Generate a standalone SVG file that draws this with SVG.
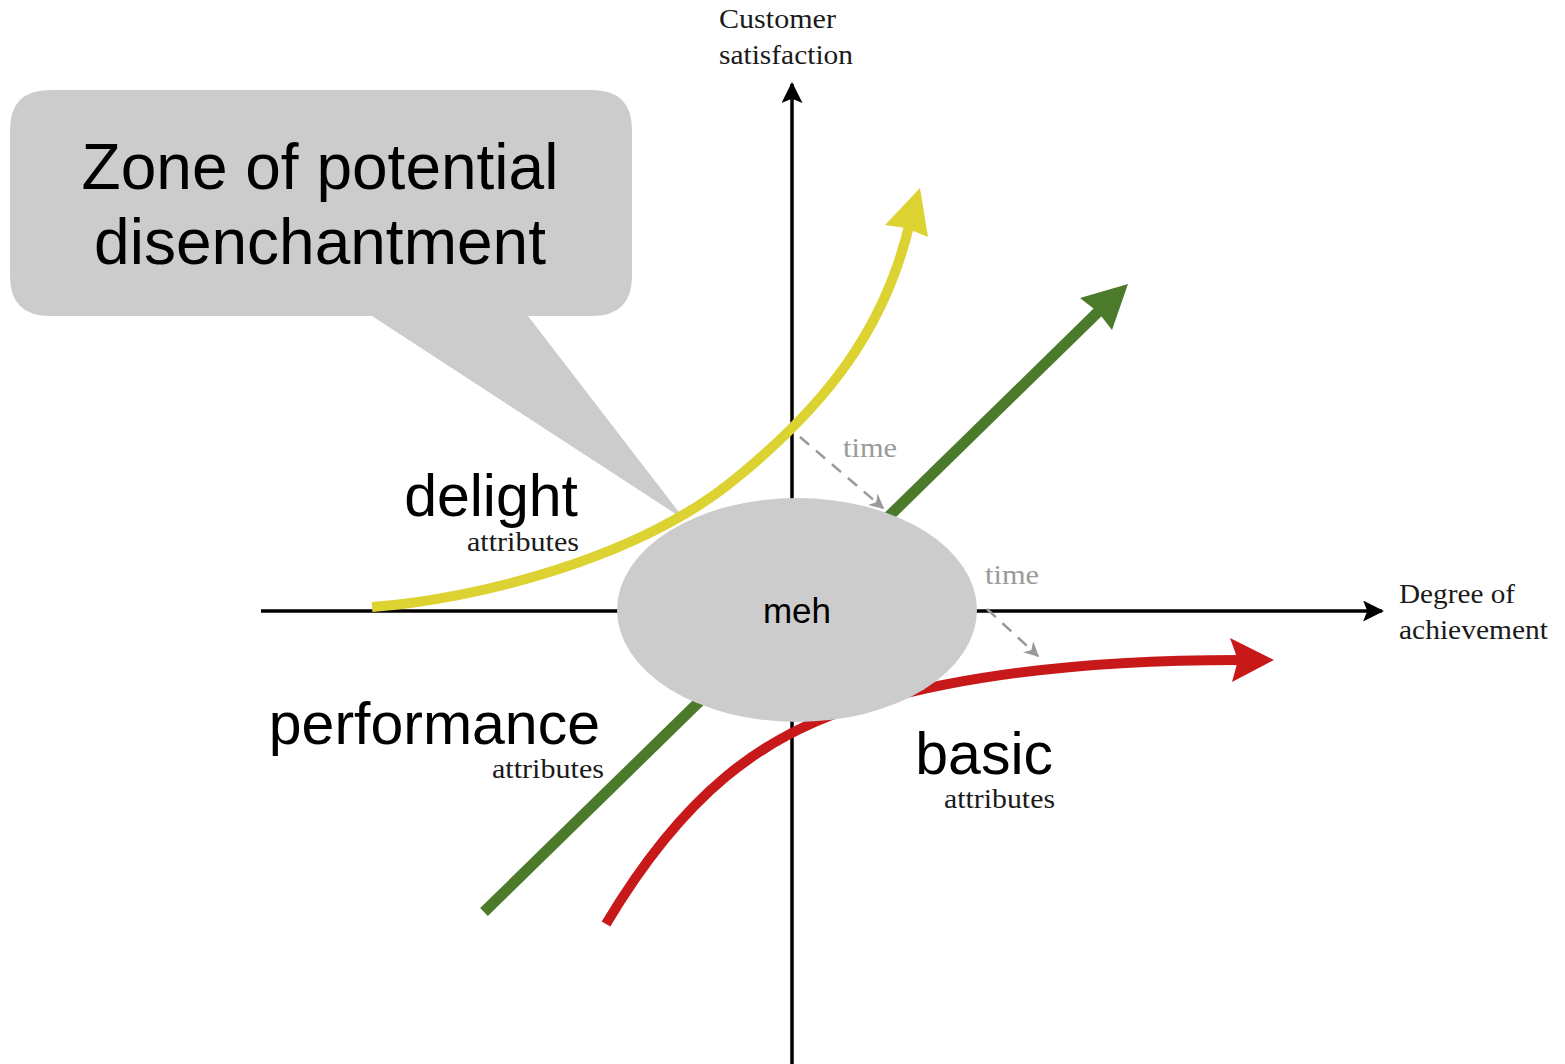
<svg xmlns="http://www.w3.org/2000/svg" width="1565" height="1064" viewBox="0 0 1565 1064">
  <style>
    .serif { font-family: "Liberation Serif", "DejaVu Serif", serif; fill: #1a1a1a; }
    .sans { font-family: "Liberation Sans", Arial, sans-serif; fill: #000; }
    .axis { stroke: #000; stroke-width: 3.5; fill: none; }
    .time { stroke: #999; stroke-width: 2.5; stroke-dasharray: 12 9; fill: none; }
    .timelbl { font-family: "Liberation Serif", "DejaVu Serif", serif; fill: #9a9a9a; font-size: 27px; }
    .ax { font-size: 28px; }
    .sub { font-size: 27px; }
    .big { font-size: 59px; }
    .zone { font-size: 64px; }
  </style>
  <defs>
    <marker id="axhead" viewBox="0 0 10 10" refX="9" refY="5" markerWidth="6" markerHeight="6" orient="auto" markerUnits="strokeWidth">
      <path d="M0,0 L10,5 L0,10 L2,5 Z" fill="#000"/>
    </marker>
    <marker id="timehead" viewBox="0 0 10 10" refX="9" refY="5" markerWidth="6" markerHeight="6" orient="auto" markerUnits="strokeWidth">
      <path d="M0,0 L10,5 L0,10 L3,5 Z" fill="#999"/>
    </marker>
  </defs>
  <rect width="1565" height="1064" fill="#fff"/>

  <!-- callout bubble -->
  <g id="callout">
    <path d="M50,90 H592 Q632,90 632,130 V276 Q632,316 592,316 H528 L685,520 L372,316 H50 Q10,316 10,276 V130 Q10,90 50,90 Z" fill="#cccccc"/>
    <text class="sans zone" x="320" y="189" text-anchor="middle">Zone of potential</text>
    <text class="sans zone" x="320" y="264" text-anchor="middle">disenchantment</text>
  </g>

  <!-- axes -->
  <g id="axes">
    <line class="axis" x1="792" y1="1064" x2="792" y2="84" marker-end="url(#axhead)"/>
    <line class="axis" x1="261" y1="611" x2="1382" y2="611" marker-end="url(#axhead)"/>
    <text class="serif ax" x="719" y="28" textLength="117" lengthAdjust="spacingAndGlyphs">Customer</text>
    <text class="serif ax" x="719" y="64" textLength="134" lengthAdjust="spacingAndGlyphs">satisfaction</text>
    <text class="serif ax" x="1399" y="603" textLength="116" lengthAdjust="spacingAndGlyphs">Degree of</text>
    <text class="serif ax" x="1399" y="639" textLength="149" lengthAdjust="spacingAndGlyphs">achievement</text>
  </g>

  <!-- attribute curves -->
  <g id="connectors">
    <g id="delight-curve">
      <path d="M372,607 C470,600 640,560 740,475 C825,405 885,330 910,222" fill="none" stroke="#dcd232" stroke-width="10"/>
      <polygon points="920,188 928,237 906,228 885,225" fill="#dcd232"/>
    </g>
    <g id="performance-line">
      <line x1="484" y1="912" x2="1100" y2="310" stroke="#4a7a2a" stroke-width="11"/>
      <polygon points="1128,284 1112,330 1098,312 1080,298" fill="#4a7a2a"/>
    </g>
    <g id="basic-curve">
      <path d="M606,924 C680,800 760,730 880,700 C980,672 1100,660 1240,660" fill="none" stroke="#c8191a" stroke-width="10"/>
      <polygon points="1274,660 1232,682 1238,660 1230,638" fill="#c8191a"/>
    </g>
    <g id="time-shifts">
      <line class="time" x1="800" y1="437" x2="883" y2="508" marker-end="url(#timehead)"/>
      <line class="time" x1="987" y1="609" x2="1038" y2="656" marker-end="url(#timehead)"/>
    </g>
  </g>

  <g id="time-labels">
    <text class="timelbl" x="843" y="457" textLength="54" lengthAdjust="spacingAndGlyphs">time</text>
    <text class="timelbl" x="985" y="584" textLength="54" lengthAdjust="spacingAndGlyphs">time</text>
  </g>

  <!-- neutral zone -->
  <g id="meh">
    <ellipse cx="797" cy="610" rx="180" ry="112" fill="#cccccc"/>
    <text class="sans" x="797" y="623" font-size="35" text-anchor="middle">meh</text>
  </g>

  <g id="delight-label">
    <text class="sans big" x="578" y="516" text-anchor="end">delight</text>
    <text class="serif sub" x="467" y="551" textLength="112" lengthAdjust="spacingAndGlyphs">attributes</text>
  </g>
  <g id="performance-label">
    <text class="sans big" x="600" y="744" text-anchor="end">performance</text>
    <text class="serif sub" x="492" y="778" textLength="112" lengthAdjust="spacingAndGlyphs">attributes</text>
  </g>
  <g id="basic-label">
    <text class="sans big" x="1053" y="774" text-anchor="end">basic</text>
    <text class="serif sub" x="944" y="808" textLength="111" lengthAdjust="spacingAndGlyphs">attributes</text>
  </g>
</svg>
